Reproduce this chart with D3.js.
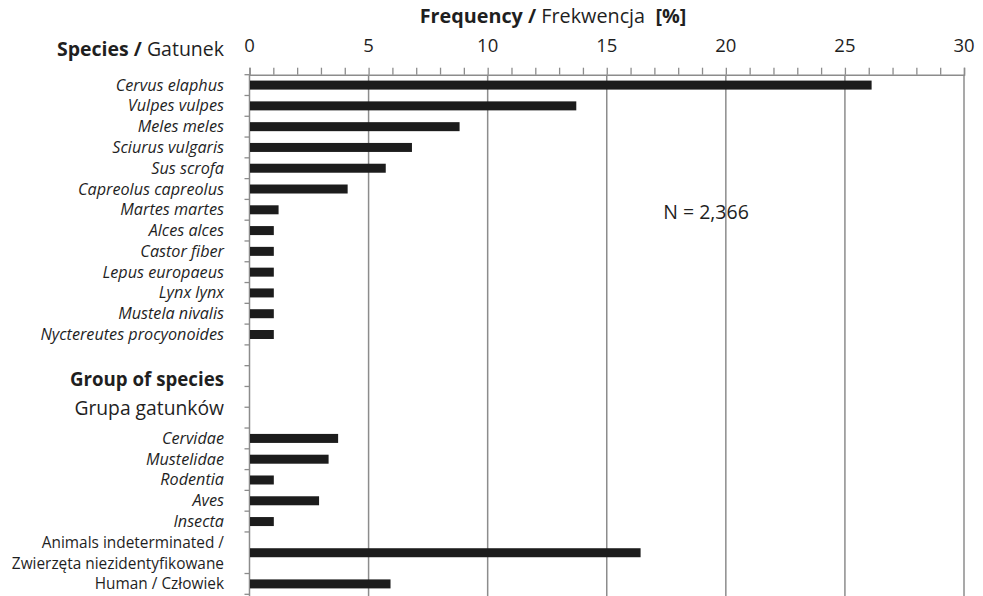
<!DOCTYPE html>
<html><head><meta charset="utf-8">
<script src="https://cdn.jsdelivr.net/npm/d3@7"></script>
<style>
html,body{margin:0;padding:0;background:#fff;}
svg{display:block;font-family:"Open Sans",sans-serif;}
text{white-space:pre;}
</style></head>
<body><svg id="c" width="983" height="596"></svg>
<script>
// ---- data ----
const speciesNames = ["Cervus elaphus","Vulpes vulpes","Meles meles","Sciurus vulgaris","Sus scrofa","Capreolus capreolus","Martes martes","Alces alces","Castor fiber","Lepus europaeus","Lynx lynx","Mustela nivalis","Nyctereutes procyonoides"];
const speciesFreq  = [26.1, 13.7, 8.8, 6.8, 5.7, 4.1, 1.2, 1.0, 1.0, 1.0, 1.0, 1.0, 1.0];
const groupNames = ["Cervidae","Mustelidae","Rodentia","Aves","Insecta"];
const groupFreq  = [3.7, 3.3, 1.0, 2.9, 1.0];
const otherNames = [["Animals indeterminated /","Zwierzęta niezidentyfikowane"],["Human / Człowiek"]];
const otherFreq  = [16.4, 5.9];
const xTickValues = [0,5,10,15,20,25,30];
const sampleSize = "N = 2,366";

(function(){
// ---- build rows (slot index, span) ----
const rows = [];
let slot = 0;
speciesNames.forEach((n,i)=>{rows.push({lines:[n], v:speciesFreq[i], italic:true, start:slot, span:1}); slot+=1;});
slot += 4; // blank rows for group heading
groupNames.forEach((n,i)=>{rows.push({lines:[n], v:groupFreq[i], italic:true, start:slot, span:1}); slot+=1;});
otherNames.forEach((n,i)=>{rows.push({lines:n, v:otherFreq[i], italic:false, start:slot, span:n.length}); slot+=n.length;});
const totalSlots = slot;

const svg = d3.select("#c");
const pL = 249.5, pR = 964, pT = 74.7, pB = 594.3;
const x = d3.scaleLinear().domain([0,30]).range([pL,pR]);
const y = d3.scaleLinear().domain([0,totalSlots]).range([pT,pB]);
const gridColor = "#8c8c8c", textColor = "#1f1f1f";

// gridlines
svg.append("g").selectAll("line").data(xTickValues.filter(d=>d>0)).join("line")
  .attr("x1",d=>x(d)).attr("x2",d=>x(d)).attr("y1",pT).attr("y2",pB+2)
  .attr("stroke",gridColor).attr("stroke-width",1.5);

// top axis with minor ticks
const xAxis = d3.axisTop(x).tickValues(d3.range(0,31,1)).tickSize(7).tickFormat("");
const gx = svg.append("g").attr("transform",`translate(0,${pT})`).call(xAxis);
gx.select(".domain").attr("stroke",gridColor).attr("stroke-width",1.5);
gx.selectAll(".tick line").attr("stroke",gridColor).attr("stroke-width",1.3);
// major tick labels
svg.append("g").selectAll("text").data(xTickValues).join("text")
  .attr("x",d=>x(d)).attr("y",52).attr("text-anchor","middle")
  .attr("font-size",18.5).attr("fill",textColor).text(d=>d);

// left axis with ticks at row boundaries
const boundaries = d3.range(0,totalSlots+1).filter(b=>!rows.some(r=>b>r.start && b<r.start+r.span));
svg.append("line").attr("x1",pL).attr("x2",pL).attr("y1",pT).attr("y2",pB+2)
  .attr("stroke",gridColor).attr("stroke-width",1.5);
svg.append("g").selectAll("line").data(boundaries).join("line")
  .attr("x1",pL-5).attr("x2",pL).attr("y1",d=>y(d)).attr("y2",d=>y(d))
  .attr("stroke",gridColor).attr("stroke-width",1.3);

// bars
const barH = 9;
svg.append("g").selectAll("rect").data(rows).join("rect")
  .attr("x",x(0)+0.5).attr("y",d=>y(d.start+d.span/2)-barH/2)
  .attr("width",d=>x(d.v)-x(0)).attr("height",barH)
  .attr("fill","#1c1c1c");

// category labels
const lab = svg.append("g").attr("fill",textColor).attr("text-anchor","end");
rows.forEach(r=>{
  r.lines.forEach((ln,j)=>{
    lab.append("text").attr("x",224).attr("y",y(r.start+j+0.5)+5.5)
      .attr("font-size",r.italic?16.2:15.4)
      .attr("font-style",r.italic?"italic":"normal").text(ln);
  });
});

// headings
const t1 = svg.append("text").attr("x",553).attr("y",23).attr("text-anchor","middle").attr("font-size",19.8).attr("fill",textColor);
t1.append("tspan").attr("font-weight","bold").text("Frequency / ");
t1.append("tspan").text("Frekwencja  ");
t1.append("tspan").attr("font-weight","bold").text("[%]");

const t2 = svg.append("text").attr("x",224).attr("y",56).attr("text-anchor","end").attr("font-size",19.5).attr("fill",textColor);
t2.append("tspan").attr("font-weight","bold").text("Species / ");
t2.append("tspan").text("Gatunek");

svg.append("text").attr("x",224).attr("y",385.5).attr("text-anchor","end").attr("font-size",18.7)
  .attr("font-weight","bold").attr("fill",textColor).text("Group of species");
svg.append("text").attr("x",224).attr("y",414.5).attr("text-anchor","end").attr("font-size",19.3)
  .attr("fill",textColor).text("Grupa gatunków");

svg.append("text").attr("x",706).attr("y",219).attr("text-anchor","middle").attr("font-size",19.5)
  .attr("fill",textColor).text(sampleSize);
})();
</script></body></html>
